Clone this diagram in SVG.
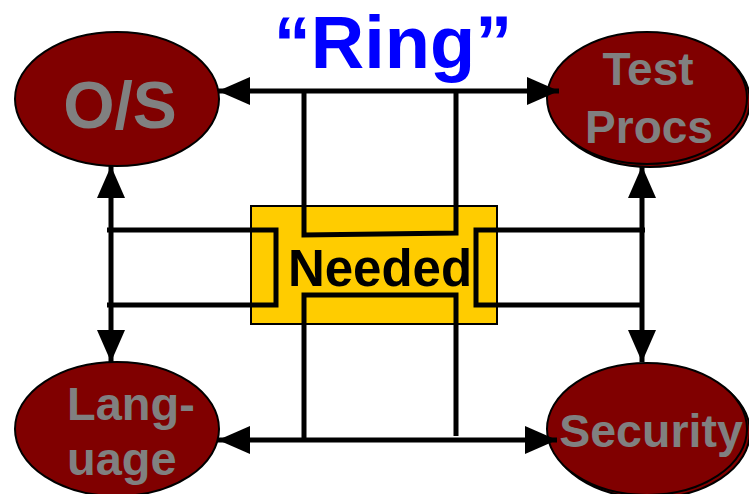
<svg xmlns="http://www.w3.org/2000/svg" width="749" height="494" viewBox="0 0 749 494">
<defs>
<marker id="ah" markerUnits="userSpaceOnUse" markerWidth="34" markerHeight="30" refX="32" refY="14" orient="auto-start-reverse" viewBox="0 0 34 30">
<path d="M0,0 L32,14 L0,28 z" fill="#000"/>
</marker>
<style>
.node ellipse{fill:#800000;stroke:#000;stroke-width:2}
.lbl{font-family:"Liberation Sans",Arial,sans-serif;font-weight:bold;fill:#808080}
.conn{fill:none;stroke:#000;stroke-width:5}
.arr{marker-start:url(#ah);marker-end:url(#ah)}
</style>
</defs>
<rect width="749" height="494" fill="#fff"/>
<text x="393" y="68" text-anchor="middle" font-family="'Liberation Sans',Arial,sans-serif" font-weight="bold" font-size="74" fill="#0000FF">“Ring”</text>
<g id="needed">
<rect x="251" y="206" width="246" height="118" fill="#FFCC00" stroke="#000" stroke-width="2"/>
<text x="380" y="286" text-anchor="middle" font-family="'Liberation Sans',Arial,sans-serif" font-weight="bold" font-size="51" fill="#000">Needed</text>
</g>
<g id="os" class="node">
<ellipse cx="117" cy="99" rx="102" ry="67"/>
<text class="lbl" x="120" y="128" text-anchor="middle" font-size="66">O/S</text>
</g>
<g id="testprocs" class="node">
<ellipse cx="650" cy="101" rx="100" ry="66"/>
<ellipse cx="647" cy="98" rx="100" ry="66"/>
<text class="lbl" x="648" y="85" text-anchor="middle" font-size="46">Test</text>
<text class="lbl" x="649" y="143" text-anchor="middle" font-size="46">Procs</text>
</g>
<g id="language" class="node">
<ellipse cx="117" cy="429" rx="102" ry="67"/>
<text class="lbl" x="67" y="420" font-size="47">Lang-</text>
<text class="lbl" x="67" y="475" font-size="47">uage</text>
</g>
<g id="security" class="node">
<ellipse cx="650" cy="432" rx="100" ry="66"/>
<ellipse cx="647" cy="429" rx="100" ry="66"/>
<text class="lbl" x="651" y="447" text-anchor="middle" font-size="46.5">Security</text>
</g>
<g id="connectors">
<line class="conn arr" x1="218" y1="91" x2="559" y2="91"/>
<polyline class="conn" points="304,91 304,235 456,233 456,91"/>
<polyline class="conn" points="107,230 276,230 276,305 107,305"/>
<line class="conn arr" x1="111" y1="166" x2="111" y2="362"/>
<polyline class="conn" points="645,230 476,230 476,305 641,305"/>
<line class="conn arr" x1="642" y1="166" x2="642" y2="362"/>
<polyline class="conn" points="304,440 304,295 456,295 456,436"/>
<line class="conn arr" x1="218" y1="440" x2="557" y2="440"/>
</g>
</svg>
